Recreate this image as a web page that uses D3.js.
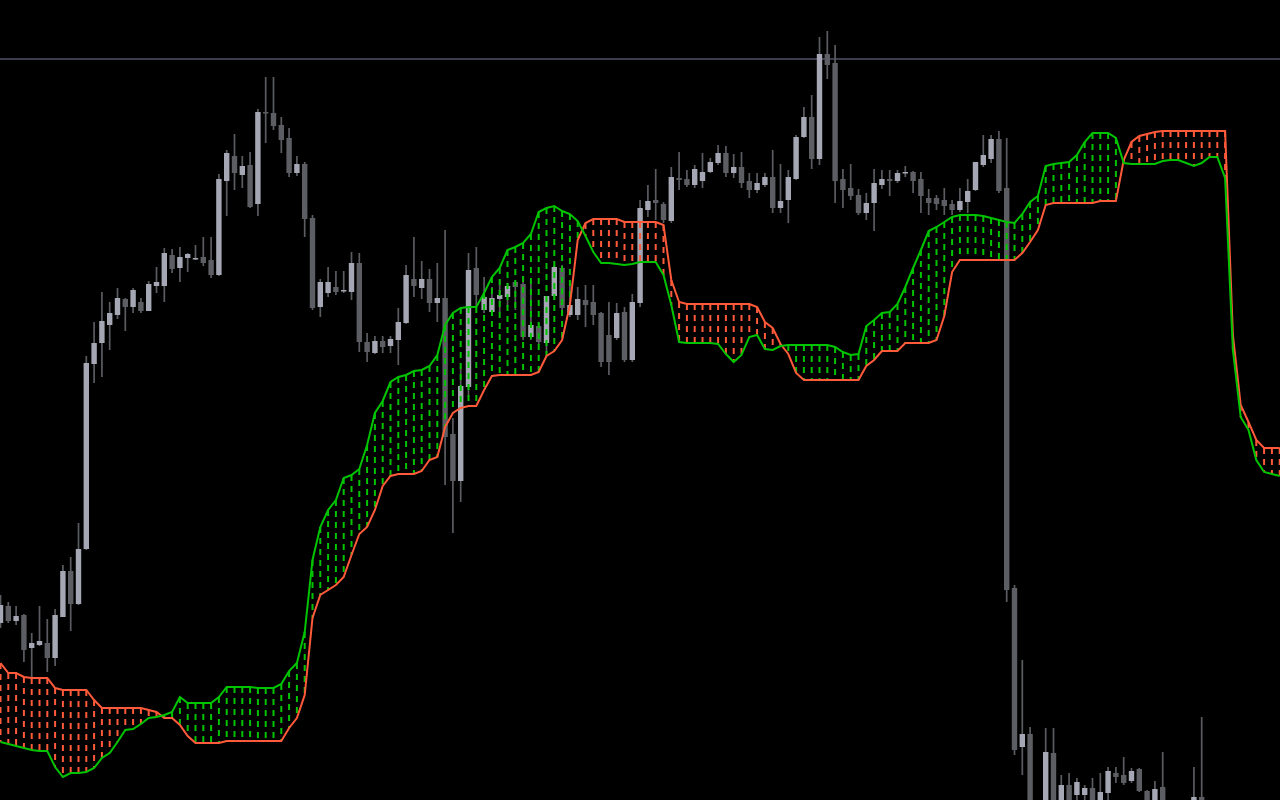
<!DOCTYPE html>
<html><head><meta charset="utf-8">
<script src="https://cdn.jsdelivr.net/npm/d3@7"></script>
<style>html,body{margin:0;padding:0;background:#000;overflow:hidden}svg{display:block}</style>
</head><body>
<svg id="chart" width="1280" height="800"></svg>
<script>
// ---- data (price units) ----
const openP = [
1377,1394,1379,1385,1352,1355,1357,1342,1383,1429,
1396,1451,1636,1657,1675,1685,1701,1693,1698,1689,
1714,1714,1745,1732,1742,1741,1743,1740,1725,1819,
1844,1825,1835,1796,1888,1887,1875,1862,1827,1836,
1782,1693,1707,1713,1709,1708,1737,1658,1647,1659,
1654,1660,1677,1721,1712,1721,1697,1702,1566,1519,
1613,1732,1690,1688,1701,1703,1718,1716,1663,1674,
1657,1704,1732,1685,1685,1700,1698,1687,1665,1662,
1688,1640,1697,1790,1800,1796,1779,1822,1821,1815,
1819,1828,1837,1847,1827,1833,1819,1810,1815,1823,
1792,1800,1821,1863,1883,1841,1946,1937,1821,1812,
1805,1787,1797,1815,1821,1819,1827,1828,1821,1802,
1802,1800,1796,1790,1798,1810,1835,1841,1861,1812,
1412,1253,1266,1192,1188,1247,1195,1215,1205,1205,
1212,1195,1207,1227,1225,1219,1231,1209,1194,1213,
1194,1185,1192,1194,1203];
const highP = [
1405,1398,1394,1386,1367,1394,1381,1391,1435,1443,
1477,1644,1678,1708,1698,1712,1702,1712,1702,1719,
1733,1752,1751,1753,1747,1755,1763,1763,1826,1850,
1866,1844,1848,1891,1923,1923,1883,1872,1844,1838,
1785,1721,1733,1729,1729,1748,1747,1667,1664,1664,
1664,1692,1735,1763,1739,1731,1737,1770,1582,1633,
1747,1753,1723,1713,1720,1717,1719,1722,1717,1677,
1704,1735,1735,1717,1713,1715,1715,1688,1698,1697,
1693,1706,1800,1815,1831,1798,1833,1848,1830,1835,
1847,1842,1855,1854,1846,1848,1827,1827,1827,1850,
1836,1830,1865,1893,1905,1963,1969,1955,1831,1836,
1811,1807,1831,1830,1830,1830,1834,1829,1828,1811,
1805,1812,1800,1812,1821,1838,1865,1865,1869,1862,
1415,1340,1273,1197,1272,1272,1225,1227,1222,1215,
1222,1227,1233,1233,1243,1232,1232,1210,1219,1248,
1199,1197,1199,1233,1283];
const lowP = [
1372,1377,1375,1338,1323,1354,1328,1334,1383,1369,
1395,1450,1617,1623,1650,1681,1669,1687,1687,1689,
1707,1698,1727,1718,1728,1740,1734,1722,1724,1784,
1810,1812,1792,1784,1857,1870,1847,1823,1824,1763,
1690,1683,1703,1705,1707,1700,1648,1638,1646,1647,
1647,1635,1676,1703,1701,1688,1678,1515,1467,1498,
1603,1693,1687,1685,1687,1693,1690,1660,1660,1655,
1647,1700,1687,1683,1680,1673,1675,1633,1625,1660,
1638,1638,1693,1783,1780,1777,1777,1810,1813,1812,
1812,1827,1835,1823,1822,1812,1802,1807,1813,1787,
1787,1777,1820,1862,1831,1835,1921,1797,1792,1800,
1785,1780,1769,1811,1804,1817,1823,1807,1787,1785,
1790,1785,1785,1788,1787,1809,1833,1837,1807,1398,
1245,1225,1190,1170,1185,1188,1190,1192,1198,1198,
1192,1192,1200,1217,1215,1217,1208,1190,1190,1188,
1178,1175,1182,1190,1188];
const closeP = [
1395,1379,1384,1350,1357,1359,1342,1385,1429,1396,
1451,1637,1657,1679,1687,1702,1693,1710,1689,1716,
1718,1747,1731,1743,1746,1742,1737,1725,1821,1847,
1827,1834,1793,1888,1887,1874,1860,1827,1836,1781,
1692,1718,1718,1708,1710,1737,1658,1648,1659,1653,
1661,1678,1725,1714,1721,1697,1702,1563,1519,1614,
1730,1705,1703,1702,1705,1714,1713,1663,1675,1658,
1704,1733,1692,1695,1701,1695,1685,1638,1638,1687,
1640,1698,1792,1799,1797,1780,1823,1820,1815,1831,
1828,1838,1847,1827,1833,1817,1810,1817,1823,1792,
1799,1823,1863,1883,1841,1946,1935,1819,1810,1804,
1787,1797,1817,1821,1819,1827,1828,1819,1804,1797,
1796,1794,1790,1799,1809,1838,1845,1861,1809,1410,
1250,1266,1195,1180,1248,1195,1215,1195,1218,1212,
1197,1208,1229,1223,1217,1229,1209,1195,1211,1194,
1185,1192,1196,1203,1195];
// Senkou Span A (green) and Span B (red), shifted 26 bars ahead
const spanA = [
1258,1256,1254,1252,1250,1249,1249,1233,1223,1227,
1227,1228,1232,1242,1247,1258,1270,1271,1276,1282,
1283,1285,1288,1303,1297,1297,1297,1297,1303,1313,
1313,1313,1313,1312,1312,1312,1316,1329,1337,1368,
1440,1473,1490,1500,1522,1525,1531,1555,1587,1599,
1618,1623,1625,1629,1630,1634,1645,1675,1687,1692,
1693,1693,1707,1723,1732,1750,1753,1757,1766,1788,
1792,1794,1789,1786,1779,1764,1748,1737,1737,1736,
1735,1736,1738,1738,1738,1725,1695,1658,1657,1657,
1657,1657,1656,1646,1638,1645,1663,1665,1651,1650,
1654,1655,1655,1655,1655,1655,1655,1653,1648,1645,
1646,1674,1680,1687,1688,1696,1713,1732,1750,1769,
1773,1778,1783,1785,1785,1785,1784,1782,1780,1778,
1777,1786,1798,1804,1834,1836,1837,1838,1845,1858,
1867,1867,1867,1862,1837,1836,1836,1836,1836,1839,
1840,1840,1837,1834,1837,1843,1843,1822,1650,1583,
1570,1540,1528,1526,1524];
const spanB = [
1337,1327,1327,1323,1322,1322,1322,1312,1310,1310,
1310,1310,1300,1292,1292,1292,1292,1292,1292,1290,
1288,1282,1282,1275,1264,1257,1257,1257,1257,1259,
1259,1259,1259,1259,1259,1259,1259,1272,1282,1305,
1382,1405,1410,1415,1423,1445,1466,1473,1490,1514,
1524,1526,1526,1526,1529,1540,1543,1573,1587,1592,
1594,1594,1610,1624,1625,1625,1625,1625,1625,1628,
1644,1649,1660,1695,1760,1777,1781,1781,1781,1781,
1778,1778,1778,1778,1778,1775,1720,1698,1696,1696,
1696,1696,1696,1696,1696,1696,1696,1693,1678,1672,
1656,1646,1627,1620,1620,1620,1620,1620,1620,1620,
1620,1634,1640,1649,1649,1649,1657,1657,1657,1657,
1660,1684,1728,1740,1740,1740,1740,1740,1740,1740,
1740,1747,1758,1770,1795,1797,1797,1797,1797,1797,
1797,1799,1799,1799,1840,1858,1864,1866,1868,1869,
1869,1869,1869,1869,1869,1869,1869,1869,1665,1595,
1578,1560,1552,1552,1552];
const levels = [1941];

// ---- drawing ----
const W = 1280, H = 800;
const svg = d3.select('#chart');
svg.append('rect').attr('width', W).attr('height', H).attr('fill', '#000');

const nBars = spanA.length;
const x = d3.scaleLinear().domain([0, nBars - 1]).range([0.5, 1279.7]);
const y = d3.scaleLinear().domain([1200, 2000]).range([H, 0]);

const COL = {
  bull: '#a5a8b4', bear: '#5d5e63', wick: '#5b5c62',
  green: '#00c400', red: '#ff5a3a', level: '#3b3d4e'
};

// horizontal level
svg.append('g').selectAll('line').data(levels).join('line')
  .attr('x1', 0).attr('x2', W)
  .attr('y1', d => y(d)).attr('y2', d => y(d))
  .attr('stroke', COL.level).attr('stroke-width', 2);

// candles
const candles = openP.map((o, i) => ({ i, o, h: highP[i], l: lowP[i], c: closeP[i] }));
const cg = svg.append('g');
cg.selectAll('line.wick').data(candles).join('line').attr('class', 'wick')
  .attr('x1', d => x(d.i)).attr('x2', d => x(d.i))
  .attr('y1', d => y(d.h)).attr('y2', d => y(d.l))
  .attr('stroke', COL.wick).attr('stroke-width', 1.7);
const bw = 5.4;
cg.selectAll('rect.body').data(candles).join('rect').attr('class', 'body')
  .attr('x', d => x(d.i) - bw / 2).attr('width', bw)
  .attr('y', d => y(Math.max(d.o, d.c)))
  .attr('height', d => Math.max(1.5, Math.abs(y(d.o) - y(d.c))))
  .attr('fill', d => d.c >= d.o ? COL.bull : COL.bear);

// cloud hatching (dotted histogram between spans)
const cloud = spanA.map((a, i) => ({ i, a, b: spanB[i] }));
svg.append('g').selectAll('line').data(cloud).join('line')
  .attr('x1', d => x(d.i)).attr('x2', d => x(d.i))
  .attr('y1', d => Math.min(y(d.a), y(d.b)))
  .attr('y2', d => Math.max(y(d.a), y(d.b)))
  .attr('stroke', d => d.a >= d.b ? COL.green : COL.red)
  .attr('stroke-width', 2)
  .attr('stroke-dasharray', '6,5');

// span lines
const line = d3.line().x((d, i) => x(i)).y(d => y(d));
svg.append('path').datum(spanB).attr('d', line)
  .attr('fill', 'none').attr('stroke', COL.red).attr('stroke-width', 2);
svg.append('path').datum(spanA).attr('d', line)
  .attr('fill', 'none').attr('stroke', COL.green).attr('stroke-width', 2);
</script>
</body></html>
